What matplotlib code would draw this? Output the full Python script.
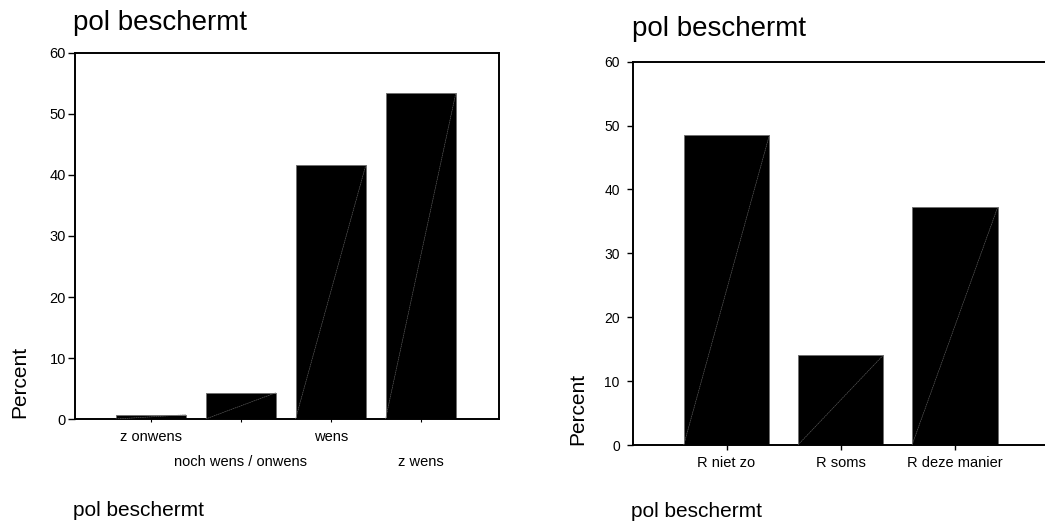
import matplotlib
matplotlib.use('Agg')
import matplotlib.pyplot as plt

plt.rcParams['font.family'] = ['Liberation Sans', 'DejaVu Sans']

# left chart
left_cats = ['z onwens', 'noch wens / onwens', 'wens', 'z wens']
left_vals = [0.7, 4.3, 41.6, 53.4]

# right chart
right_cats = ['R niet zo', 'R soms', 'R deze manier']
right_vals = [48.5, 14.1, 37.2]

y_ticks = [0, 10, 20, 30, 40, 50, 60]


def draw_bars(ax, cats, vals, width):
    pos = list(range(len(cats)))
    ax.bar(pos, vals, width=width, color='black', edgecolor='#707070', linewidth=0.7, zorder=2)
    # thin diagonal line inside every bar (bottom-left to top-right)
    for p, v in zip(pos, vals):
        ax.plot([p - width / 2, p + width / 2], [0, v], color='#6a6a6a', linewidth=0.4,
                linestyle=(0, (3, 1)), zorder=3)
    ax.set_xticks(pos)
    ax.set_ylim(0, 60)
    ax.set_yticks(y_ticks)
    for s in ax.spines.values():
        s.set_linewidth(1.4)
    return pos


fig = plt.figure(figsize=(10.45, 5.22), dpi=100)

# ---- left ----
ax1 = fig.add_axes([0.0718, 0.1973, 0.4057, 0.7012])
draw_bars(ax1, left_cats, left_vals, 0.78)
ax1.set_xlim(-0.84, 3.87)
ax1.set_xticklabels(left_cats, fontsize=10.5)
ax1.tick_params(axis='x', length=2.2, width=0.8, pad=5.4)
ax1.tick_params(axis='y', length=5, width=1, pad=1.5, labelsize=10.5)
ticks = ax1.xaxis.get_major_ticks()
for i, t in enumerate(ticks):
    if i % 2 == 1:
        t.set_pad(24)

fig.text(0.0699, 0.9425, 'pol beschermt', fontsize=20, va='baseline')
fig.text(0.0699, 0.0115, 'pol beschermt', fontsize=15, va='baseline')
fig.text(0.019, 0.199, 'Percent', fontsize=15, rotation=90, ha='center', va='bottom')

# ---- right ----
ax2 = fig.add_axes([0.6057, 0.1475, 0.3943, 0.7343])
draw_bars(ax2, right_cats, right_vals, 0.75)
ax2.set_xlim(-0.82, 2.79)
ax2.set_xticklabels(right_cats, fontsize=10.5)
ax2.spines['right'].set_visible(False)
ax2.tick_params(axis='x', length=3.6, width=1, pad=4)
ax2.tick_params(axis='y', length=4.5, width=1, pad=5, labelsize=10)

fig.text(0.6048, 0.931, 'pol beschermt', fontsize=20, va='baseline')
fig.text(0.6038, 0.0096, 'pol beschermt', fontsize=15, va='baseline')
fig.text(0.553, 0.1475, 'Percent', fontsize=15, rotation=90, ha='center', va='bottom')

plt.savefig('out.png', dpi=100)
plt.close()
